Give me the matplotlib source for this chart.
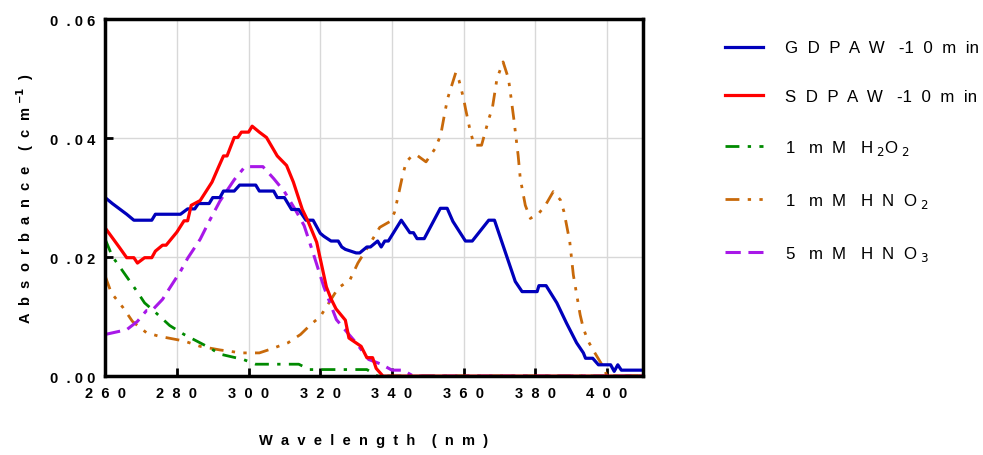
import numpy as np
import matplotlib.pyplot as plt

plt.rcParams['font.family'] = ['Liberation Sans', 'DejaVu Sans']

# GDPAW-10min
gd_x = [260, 262, 264, 266, 268, 270, 273, 274, 278, 281, 283, 285, 286, 289, 290, 292, 293, 296,
        297.5, 302, 303, 307, 308, 310, 312, 314, 316, 318, 320, 321, 323, 325, 326, 327, 330, 331,
        333, 334, 336, 337, 338, 339, 342.6, 345, 346, 347, 349, 353.5, 355.4, 357, 360.5, 362.4,
        367, 368.6, 374.4, 376.3, 380.5, 381, 383, 386, 388.7, 391.5, 393.4, 394, 396, 397.6, 401,
        402, 403, 404, 410]
gd_y = [0.030, 0.029, 0.0281, 0.0272, 0.0262, 0.0262, 0.0262, 0.0272, 0.0272, 0.0272, 0.0281, 0.0281,
        0.029, 0.029, 0.030, 0.030, 0.0311, 0.0311, 0.0321, 0.0321, 0.0311, 0.0311, 0.030, 0.030,
        0.028, 0.028, 0.0262, 0.0262, 0.024, 0.0235, 0.0227, 0.0227, 0.0217, 0.0213, 0.0207, 0.0207,
        0.0217, 0.0217, 0.0227, 0.0217, 0.0227, 0.0227, 0.0262, 0.0241, 0.0241, 0.0231, 0.0231,
        0.0282, 0.0282, 0.026, 0.0227, 0.0227, 0.0262, 0.0262, 0.0159, 0.0142, 0.0142, 0.0152, 0.0152,
        0.0123, 0.0089, 0.0056, 0.0039, 0.003, 0.003, 0.0019, 0.0019, 0.0008, 0.0019, 0.001, 0.001]

# SDPAW-10min
sd_x = [260, 264, 266, 268, 269, 271, 273, 274, 276, 277, 280, 282, 283, 284, 286.5, 289.8, 291.6,
        293, 294, 296, 297, 298, 300, 301, 303, 305, 308, 310.6, 312.5, 315, 316.6, 319, 321.7, 323,
        324.4, 327, 328, 331.4, 333, 334.6, 335.6, 337.5, 410]
sd_y = [0.0249, 0.0216, 0.0199, 0.0199, 0.019, 0.0199, 0.0199, 0.021, 0.022, 0.022, 0.0242, 0.0261,
        0.0261, 0.0287, 0.0295, 0.0326, 0.0351, 0.037, 0.037, 0.0401, 0.0401, 0.041, 0.041, 0.042,
        0.041, 0.0401, 0.037, 0.0354, 0.0326, 0.028, 0.026, 0.0225, 0.015, 0.013, 0.0113, 0.0094,
        0.0064, 0.005, 0.0031, 0.0031, 0.0013, 0.0, 0.0]

# 1 mM H2O2
h2o2_x = [260, 262, 264.6, 268.8, 271, 273.5, 278, 282, 285.5, 289, 292, 298.5, 302, 314, 317, 333, 336, 410]
h2o2_y = [0.023, 0.0201, 0.0179, 0.0143, 0.0123, 0.011, 0.0085, 0.007, 0.0059, 0.0048, 0.0037,
          0.0028, 0.002, 0.002, 0.0011, 0.0011, 0.0, 0.0]

# 1 mM HNO2
hno2_x = [260, 261.7, 265, 267.6, 271.5, 275, 282, 286.5, 292, 298, 303, 306, 311, 314.5, 317.4, 320,
          325, 328.3, 330.5, 333.4, 336.6, 339.5, 340.7, 342, 343, 344, 345.7, 347, 349.5, 352,
          353.6, 354.6, 355.5, 357.8, 358.7, 360, 360.5, 361.9, 363, 365, 367, 368, 369.3, 371,
          372.5, 373, 374, 375.2, 375.8, 377.2, 378.6, 380.9, 382.8, 385, 387, 388, 389.6, 390.6,
          392.5, 393.4, 394.8, 396.6, 399, 400, 410]
hno2_y = [0.0168, 0.014, 0.0115, 0.0092, 0.0073, 0.0067, 0.0059, 0.005, 0.0044, 0.0039, 0.0039,
          0.0045, 0.0056, 0.007, 0.0087, 0.010, 0.0148, 0.0162, 0.019, 0.0218, 0.025, 0.026, 0.0275,
          0.031, 0.0338, 0.036, 0.0371, 0.0371, 0.036, 0.0382, 0.0405, 0.0438, 0.0466, 0.051,
          0.0497, 0.0466, 0.045, 0.041, 0.0388, 0.0388, 0.0432, 0.045, 0.050, 0.0528, 0.050,
          0.0478, 0.0432, 0.0371, 0.0332, 0.0287, 0.0265, 0.0273, 0.0287, 0.031, 0.0296, 0.0276,
          0.0226, 0.017, 0.0103, 0.008, 0.0058, 0.0039, 0.0015, 0.0, 0.0]

# 5 mM HNO3
hno3_x = [260, 266, 269, 271.5, 273, 276, 278, 281, 283, 286.5, 289, 292, 296, 299, 304, 307, 310,
          313, 315.5, 318, 321, 324.5, 328, 330, 333.5, 337, 340, 343, 346, 410]
hno3_y = [0.007, 0.0078, 0.0092, 0.011, 0.011, 0.0129, 0.0148, 0.0176, 0.0198, 0.023, 0.026,
          0.0294, 0.033, 0.0352, 0.0352, 0.0332, 0.031, 0.028, 0.0253, 0.0207, 0.015, 0.0095,
          0.007, 0.0056, 0.0028, 0.002, 0.001, 0.001, 0.0, 0.0]

xticks = [260, 280, 300, 320, 340, 360, 380, 400]
xtick_labels = ['2  6  0', '2  8  0', '3  0  0', '3  2  0', '3  4  0', '3  6  0', '3  8  0', '4  0  0']
yticks = [0.0, 0.02, 0.04, 0.06]
ytick_labels = ['0  . 0 0', '0  . 0 2', '0  . 0 4', '0  . 0 6']

fig = plt.figure(figsize=(9.83, 4.56), dpi=100)
ax = fig.add_axes([0.107, 0.173, 0.547, 0.783])

ax.plot(hno2_x, hno2_y, color='#C8690A', lw=2.0, dashes=(5, 3, 1.2, 3, 1.2, 3),
        label='1   m  M   H  N  O$_{\\ 2}$')
ax.plot(h2o2_x, h2o2_y, color='#008A00', lw=2.0, dashes=(5, 3, 1.2, 3),
        label='1   m  M   H$_{\\ 2}$O$_{\\ 2}$')
ax.plot(hno3_x, hno3_y, color='#A818E8', lw=2.2, dashes=(5, 2.5, 5, 2.5, 1.5, 2.5),
        label='5   m  M   H  N  O$_{\\ 3}$')
ax.plot(gd_x, gd_y, color='#0000BB', lw=2.3, label='G  D  P  A  W   -1  0  m  in')
ax.plot(sd_x, sd_y, color='#FF0000', lw=2.3, label='S  D  P  A  W   -1  0  m  in')

ax.set_xlim(260, 410)
ax.set_ylim(0, 0.06)
ax.set_xticks(xticks)
ax.set_xticklabels(xtick_labels, fontsize=10.5, fontweight='bold')
ax.set_yticks(yticks)
ax.set_yticklabels(ytick_labels, fontsize=10.5, fontweight='bold')
ax.tick_params(direction='in', length=6, width=2, pad=7)
ax.grid(True, color='#D8D8D8', lw=1)
for s in ax.spines.values():
    s.set_linewidth(2.5)

ax.set_xlabel('W  a  v  e  l  e  n  g  t  h    (  n  m  )', fontsize=10.5, fontweight='bold', labelpad=24)
ax.set_ylabel('A  b  s  o  r  b  a  n  c  e    (  c  m $^{\\mathbf{-1}}$  )', fontsize=10.5,
              fontweight='bold', labelpad=10)

h, l = ax.get_legend_handles_labels()
order = [3, 4, 1, 0, 2]
ax.legend([h[i] for i in order], [l[i] for i in order], loc='upper left',
          bbox_to_anchor=(1.152, 0.94), frameon=False, fontsize=12.2,
          handlelength=2.25, handletextpad=1.3, labelspacing=2.0, borderaxespad=0, borderpad=0)

fig.savefig('out.png', dpi=100)
